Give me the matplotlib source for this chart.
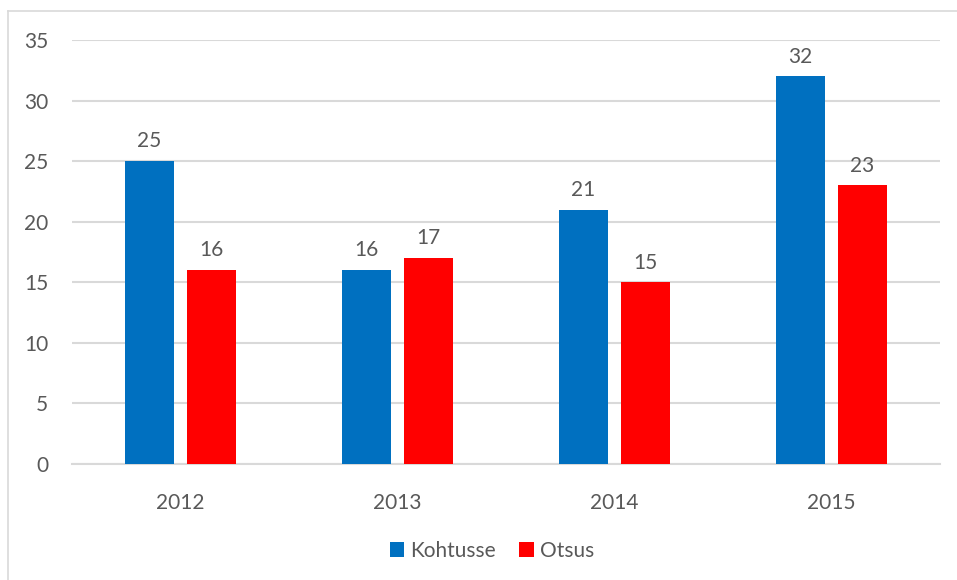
import numpy as np
import matplotlib.pyplot as plt
from matplotlib.lines import Line2D

years = ['2012', '2013', '2014', '2015']
kohtusse = [25, 16, 21, 32]
otsus = [16, 17, 15, 23]

blue = '#0070C0'
red = '#FF0000'
text_col = '#595959'
grid_col = '#D9D9D9'

plt.rcParams['font.family'] = ['Lato', 'DejaVu Sans']

W, H = 957, 580
fig = plt.figure(figsize=(W / 100, H / 100), dpi=100)

# axes placed in pixel terms of the reference
left, right, top, bottom = 72, 940, 40, 464
ax = fig.add_axes([left / W, 1 - bottom / H, (right - left) / W, (bottom - top) / H])

x = np.arange(len(years))
w = 0.226
off = 0.143
b1 = ax.bar(x - off, kohtusse, w, color=blue, label='Kohtusse', zorder=3)
b2 = ax.bar(x + off, otsus, w, color=red, label='Otsus', zorder=3)

for bars in (b1, b2):
    for rect in bars:
        h = rect.get_height()
        ax.annotate(f'{h:g}', (rect.get_x() + rect.get_width() / 2, h),
                    xytext=(0, 7), textcoords='offset points',
                    ha='center', va='bottom', fontsize=15, color=text_col)

ax.set_xlim(-0.5, len(years) - 0.5)
ax.set_ylim(0, 35)
ax.set_yticks(range(0, 36, 5))
ax.set_xticks(x)
ax.set_xticklabels(years)
ax.yaxis.grid(True, color=grid_col, linewidth=1.5, zorder=0)
ax.tick_params(axis='both', length=0, labelsize=15, labelcolor=text_col)
ax.tick_params(axis='x', pad=21)
ax.tick_params(axis='y', pad=17)
for s in ['top', 'right', 'left']:
    ax.spines[s].set_visible(False)
ax.spines['bottom'].set_color(grid_col)
ax.spines['bottom'].set_linewidth(1.5)
ax.set_axisbelow(True)

leg = fig.legend(loc='center', bbox_to_anchor=(492 / W, 1 - 551 / H), ncol=2,
                 frameon=False, fontsize=15, handlelength=0.7, handleheight=0.7,
                 handletextpad=0.3, columnspacing=1.1, labelcolor=text_col)

# outer chart border (left and top edges visible)
fig.add_artist(Line2D([8 / W, 8 / W], [0, 1 - 11 / H], color=grid_col, linewidth=1.2))
fig.add_artist(Line2D([8 / W, 1], [1 - 11 / H, 1 - 11 / H], color=grid_col, linewidth=1.2))

fig.savefig('out.png', dpi=100)
